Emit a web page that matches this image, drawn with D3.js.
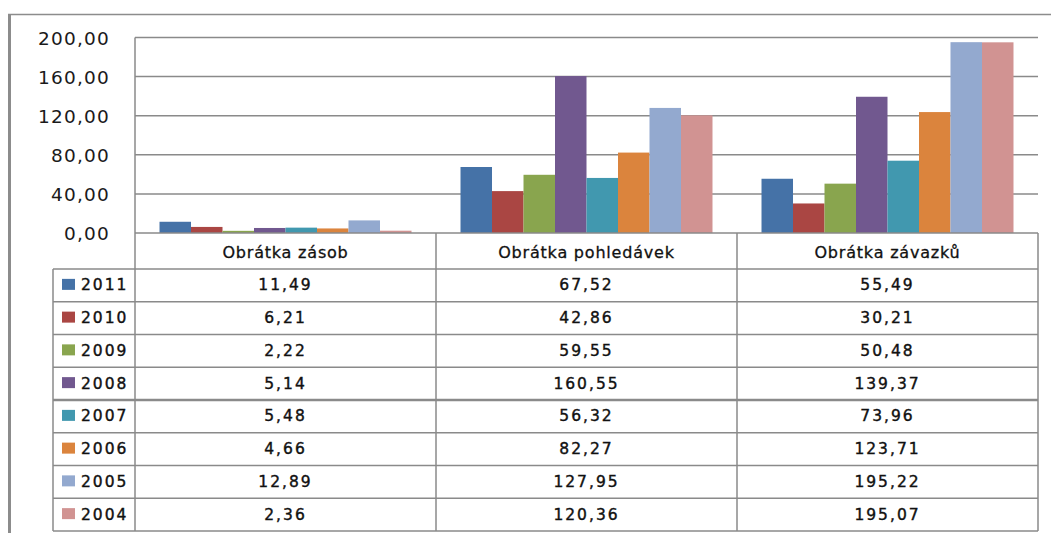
<!DOCTYPE html>
<html>
<head>
<meta charset="utf-8">
<script src="https://cdn.jsdelivr.net/npm/d3@7"></script>
<style>
  html, body { margin: 0; padding: 0; background: #fff; }
  svg { display: block; font-family: "DejaVu Sans", Verdana, sans-serif; }
</style>
</head>
<body>
<svg id="chart" width="1051" height="533"></svg>
<script>
// Turnover ratios by year
const categories = ["Obrátka zásob", "Obrátka pohledávek", "Obrátka závazků"];
const years = ["2011", "2010", "2009", "2008", "2007", "2006", "2005", "2004"];
const v2011 = [11.49, 67.52, 55.49];
const v2010 = [6.21, 42.86, 30.21];
const v2009 = [2.22, 59.55, 50.48];
const v2008 = [5.14, 160.55, 139.37];
const v2007 = [5.48, 56.32, 73.96];
const v2006 = [4.66, 82.27, 123.71];
const v2005 = [12.89, 127.95, 195.22];
const v2004 = [2.36, 120.36, 195.07];
const yTicks = [0, 40, 80, 120, 160, 200];
const colors = ["#4572A7", "#AA4643", "#89A54E", "#71588F", "#4198AF", "#DB843D", "#93A9CF", "#D19392"];

const seriesValues = [v2011, v2010, v2009, v2008, v2007, v2006, v2005, v2004];
const series = years.map((y, i) => ({ year: y, values: seriesValues[i], color: colors[i] }));

const cz = d3.formatLocale({ decimal: ",", thousands: "\u00a0", grouping: [3], currency: ["", " Kč"] });
const fmt = cz.format(".2f");

const svg = d3.select("#chart");
const gridColor = "#8a8a8a";
const textColor = "#111";

// plot geometry
const plotLeft = 135, plotRight = 1038;
const plotTop = 37.5, plotBottom = 233;
const legendLeft = 53;
const headerBottom = 269;
const rowH = 32.75;
const tableBottom = headerBottom + rowH * years.length;

const x = d3.scaleBand().domain(categories).range([plotLeft, plotRight]).paddingInner(0).paddingOuter(0);
const xs = d3.scaleBand().domain(years).range([0, x.bandwidth()]).paddingInner(0).paddingOuter(0.778);
const y = d3.scaleLinear().domain([0, 200]).range([plotBottom, plotTop]);

// outer frame
svg.append("line").attr("x1", 9.5).attr("x2", 9.5).attr("y1", 14).attr("y2", 533)
  .attr("stroke", "#8c8c8c").attr("stroke-width", 3);
svg.append("line").attr("x1", 8).attr("x2", 1051).attr("y1", 14.5).attr("y2", 14.5)
  .attr("stroke", "#8c8c8c").attr("stroke-width", 1.5);

// gridlines
svg.append("g").selectAll("line").data(yTicks.filter(t => t > 0)).join("line")
  .attr("x1", plotLeft).attr("x2", plotRight)
  .attr("y1", d => y(d)).attr("y2", d => y(d))
  .attr("stroke", gridColor).attr("stroke-width", 1.5);

// y axis labels
const yAxis = d3.axisLeft(y).tickValues(yTicks).tickFormat(fmt).tickSize(0).tickPadding(0);
const gy = svg.append("g").attr("transform", "translate(110,0)").call(yAxis);
gy.select(".domain").remove();
gy.selectAll("text")
  .attr("font-family", "DejaVu Sans, sans-serif")
  .attr("font-size", 18.5).attr("fill", "#1a1a1a")
  .attr("letter-spacing", 1.2)
  .attr("dy", "0.36em");

// bars
const gBars = svg.append("g");
series.forEach(s => {
  gBars.append("g").attr("fill", s.color).selectAll("rect")
    .data(categories.map((c, i) => ({ c, v: s.values[i] })))
    .join("rect")
    .attr("x", d => x(d.c) + xs(s.year))
    .attr("width", xs.bandwidth())
    .attr("y", d => y(d.v))
    .attr("height", d => y(0) - y(d.v));
});

// data table
const gT = svg.append("g").attr("stroke", gridColor).attr("stroke-width", 1.5);
// horizontal lines
gT.append("line").attr("x1", plotLeft).attr("x2", plotRight).attr("y1", plotBottom).attr("y2", plotBottom);
d3.range(years.length + 1).forEach(i => {
  const yy = headerBottom + i * rowH;
  gT.append("line").attr("x1", legendLeft).attr("x2", plotRight).attr("y1", yy).attr("y2", yy)
    .attr("stroke-width", i === 4 ? 2.5 : 1.5);
});
// vertical lines
gT.append("line").attr("x1", plotLeft).attr("x2", plotLeft).attr("y1", plotTop).attr("y2", tableBottom);
gT.append("line").attr("x1", legendLeft).attr("x2", legendLeft).attr("y1", headerBottom).attr("y2", tableBottom);
categories.forEach(c => {
  const xr = x(c) + x.bandwidth();
  gT.append("line").attr("x1", xr).attr("x2", xr).attr("y1", plotBottom).attr("y2", tableBottom);
});

// category headers
svg.append("g").selectAll("text").data(categories).join("text")
  .attr("x", d => x(d) + x.bandwidth() / 2)
  .attr("y", (plotBottom + headerBottom) / 2 + 1)
  .attr("text-anchor", "middle").attr("dominant-baseline", "central")
  .attr("font-size", 16).attr("letter-spacing", 0.8)
  .attr("fill", textColor).attr("stroke", textColor).attr("stroke-width", 0.3)
  .text(d => d);

// legend keys, year labels and table values
const gLeg = svg.append("g");
series.forEach((s, i) => {
  const cy = headerBottom + i * rowH + rowH / 2;
  gLeg.append("rect").attr("x", 62).attr("y", cy - 6.5).attr("width", 13).attr("height", 11).attr("fill", s.color);
  gLeg.append("text").attr("x", 81).attr("y", cy)
    .attr("dominant-baseline", "central")
    .attr("font-size", 15.5).attr("letter-spacing", 2)
    .attr("fill", textColor).attr("stroke", textColor).attr("stroke-width", 0.4)
    .text(s.year);
  gLeg.append("g").selectAll("text").data(s.values).join("text")
    .attr("x", (d, j) => x(categories[j]) + x.bandwidth() / 2)
    .attr("y", cy)
    .attr("text-anchor", "middle").attr("dominant-baseline", "central")
    .attr("font-size", 15.5).attr("letter-spacing", 2)
    .attr("fill", textColor).attr("stroke", textColor).attr("stroke-width", 0.4)
    .text(d => fmt(d));
});
</script>
</body>
</html>
